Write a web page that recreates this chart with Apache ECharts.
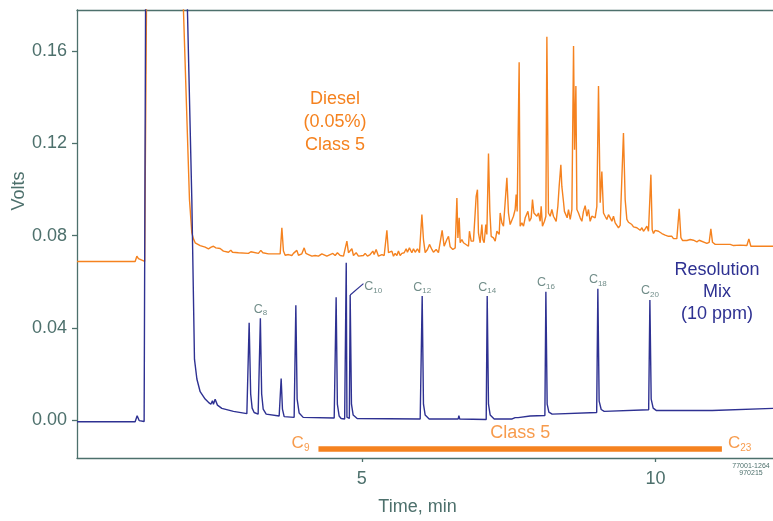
<!DOCTYPE html>
<html>
<head>
<meta charset="utf-8">
<script src="https://cdn.jsdelivr.net/npm/echarts@6/dist/echarts.min.js"></script>
<style>
  html, body { margin: 0; padding: 0; background: #ffffff; }
  #chart { width: 773px; height: 521px; }
</style>
</head>
<body>
<div id="chart"></div>
<script>
// Resolution mix (n-alkanes, 10 ppm): [time (min), signal (V)]
const mixTrace = [
  [0.15, -0.0006], [1.14, -0.0006], [1.174, 0.0020], [1.208, -0.0001], [1.293, -0.0005],
  [1.319, 0.19], [2.019, 0.19], [2.105, 0.0956], [2.150, 0.0265], [2.191, 0.0179],
  [2.247, 0.0124], [2.332, 0.0092], [2.388, 0.0078], [2.429, 0.0070], [2.456, 0.0085],
  [2.473, 0.0070], [2.502, 0.0091], [2.541, 0.0066], [2.616, 0.0052], [2.814, 0.0039],
  [3.042, 0.0029], [3.061, 0.0029], [3.081, 0.0423], [3.107, 0.0114], [3.132, 0.0053],
  [3.166, 0.0034], [3.234, 0.0027], [3.251, 0.0027], [3.272, 0.0442], [3.294, 0.0114],
  [3.320, 0.0049], [3.371, 0.0027], [3.592, 0.0019], [3.609, 0.0019], [3.626, 0.0181],
  [3.648, 0.0049], [3.677, 0.0016], [3.847, 0.0013], [3.864, 0.0013], [3.876, 0.0498],
  [3.898, 0.0092], [3.932, 0.0032], [4.001, 0.0013], [4.529, 0.0010], [4.549, 0.0010],
  [4.562, 0.0533], [4.583, 0.0070], [4.613, 0.0019], [4.647, 0.0008], [4.707, 0.0006],
  [4.724, 0.0008], [4.734, 0.0683], [4.746, 0.0014], [4.770, 0.0006], [4.787, 0.0008],
  [4.801, 0.0543], [4.823, 0.0070], [4.852, 0.0023], [4.920, 0.0008], [5.993, 0.0006],
  [6.013, 0.0006], [6.027, 0.0538], [6.049, 0.0070], [6.078, 0.0023], [6.146, 0.0006],
  [6.640, 0.0006], [6.652, 0.0020], [6.666, 0.0006], [7.117, 0.0004], [7.122, 0.0004],
  [7.134, 0.0538], [7.156, 0.0070], [7.185, 0.0023], [7.253, 0.0006], [7.559, 0.0006],
  [7.576, 0.0014], [7.593, 0.0003], [7.610, 0.0012], [7.627, 0.0004], [7.661, 0.0012],
  [7.865, 0.0019], [8.116, 0.0021], [8.133, 0.0557], [8.155, 0.0070], [8.184, 0.0036],
  [8.240, 0.0027], [8.998, 0.0034], [9.018, 0.0570], [9.040, 0.0083], [9.075, 0.0047],
  [9.126, 0.0039], [9.883, 0.0046], [9.904, 0.0521], [9.926, 0.0092], [9.960, 0.0053],
  [10.011, 0.0043], [10.965, 0.0043], [10.973, 0.0049], [12.0, 0.0052]
];

// Diesel, 0.05 % (Class 5): [time (min), signal (V)]
const dieselTrace = [
  [0.15, 0.0688], [1.140, 0.0688], [1.169, 0.0711], [1.196, 0.0700], [1.225, 0.0692],
  [1.302, 0.0688], [1.336, 0.19], [1.947, 0.19], [2.065, 0.0956], [2.105, 0.0812],
  [2.133, 0.0786], [2.162, 0.0769], [2.247, 0.0757], [2.332, 0.0750], [2.388, 0.0743],
  [2.434, 0.0750], [2.473, 0.0754], [2.514, 0.0747], [2.541, 0.0754], [2.587, 0.0744],
  [2.643, 0.0733], [2.729, 0.0728], [2.769, 0.0737], [2.797, 0.0728], [2.899, 0.0726],
  [3.069, 0.0723], [3.110, 0.0730], [3.144, 0.0723], [3.239, 0.0723], [3.280, 0.0736],
  [3.314, 0.0726], [3.410, 0.0721], [3.609, 0.0721], [3.638, 0.0834], [3.665, 0.0733],
  [3.694, 0.0715], [3.750, 0.0718], [3.779, 0.0726], [3.808, 0.0714], [3.835, 0.0723],
  [3.864, 0.0718], [3.893, 0.0736], [3.921, 0.0715], [3.949, 0.0718], [3.978, 0.0721],
  [4.018, 0.0747], [4.047, 0.0723], [4.091, 0.0718], [4.149, 0.0711], [4.205, 0.0714],
  [4.261, 0.0711], [4.319, 0.0721], [4.346, 0.0714], [4.404, 0.0711], [4.460, 0.0718],
  [4.506, 0.0723], [4.545, 0.0714], [4.584, 0.0726], [4.631, 0.0714], [4.687, 0.0711],
  [4.745, 0.0776], [4.772, 0.0726], [4.801, 0.0718], [4.830, 0.0743], [4.857, 0.0714],
  [4.903, 0.0726], [4.942, 0.0711], [5.027, 0.0714], [5.056, 0.0723], [5.095, 0.0711],
  [5.141, 0.0718], [5.187, 0.0733], [5.209, 0.0718], [5.243, 0.0740], [5.283, 0.0711],
  [5.341, 0.0718], [5.380, 0.0714], [5.426, 0.0823], [5.453, 0.0726], [5.482, 0.0718],
  [5.511, 0.0733], [5.538, 0.0711], [5.567, 0.0723], [5.596, 0.0714], [5.623, 0.0733],
  [5.652, 0.0714], [5.681, 0.0723], [5.720, 0.0726], [5.754, 0.0743], [5.776, 0.0728],
  [5.810, 0.0747], [5.851, 0.0726], [5.879, 0.0743], [5.908, 0.0728], [5.947, 0.0743],
  [5.981, 0.0726], [6.022, 0.0891], [6.049, 0.0783], [6.078, 0.0726], [6.117, 0.0740],
  [6.151, 0.0762], [6.192, 0.0740], [6.219, 0.0728], [6.265, 0.0740], [6.304, 0.0726],
  [6.333, 0.0718], [6.367, 0.0823], [6.401, 0.0754], [6.447, 0.0783], [6.475, 0.0797],
  [6.503, 0.0752], [6.549, 0.0740], [6.589, 0.0747], [6.618, 0.0963], [6.635, 0.0790],
  [6.657, 0.0877], [6.674, 0.0769], [6.703, 0.0783], [6.730, 0.0769], [6.759, 0.0762],
  [6.815, 0.0754], [6.832, 0.0819], [6.861, 0.0776], [6.900, 0.0776], [6.929, 0.0783],
  [6.946, 0.0970], [6.968, 0.0999], [6.985, 0.0812], [7.014, 0.0769], [7.043, 0.0848],
  [7.060, 0.0783], [7.082, 0.0769], [7.111, 0.0848], [7.128, 0.0805], [7.156, 0.1155],
  [7.179, 0.0905], [7.202, 0.0797], [7.241, 0.0790], [7.270, 0.0776], [7.299, 0.0819],
  [7.316, 0.0826], [7.338, 0.0805], [7.355, 0.0898], [7.384, 0.0855], [7.411, 0.0841],
  [7.440, 0.0841], [7.469, 0.1050], [7.496, 0.0898], [7.525, 0.0848], [7.554, 0.0841],
  [7.581, 0.0884], [7.610, 0.0913], [7.627, 0.0978], [7.644, 0.0905], [7.678, 0.1551],
  [7.695, 0.0841], [7.724, 0.0855], [7.752, 0.0841], [7.781, 0.0877], [7.798, 0.0870],
  [7.827, 0.0905], [7.854, 0.0862], [7.883, 0.0877], [7.905, 0.0956], [7.929, 0.0898],
  [7.951, 0.0905], [7.980, 0.0884], [8.007, 0.0898], [8.036, 0.0862], [8.053, 0.0927],
  [8.075, 0.0841], [8.109, 0.0862], [8.133, 0.0884], [8.150, 0.1661], [8.177, 0.0898],
  [8.206, 0.0884], [8.235, 0.0913], [8.262, 0.0884], [8.291, 0.0891], [8.308, 0.0862],
  [8.337, 0.0927], [8.359, 0.1013], [8.388, 0.1107], [8.405, 0.1013], [8.432, 0.0949],
  [8.449, 0.0905], [8.473, 0.0913], [8.495, 0.0877], [8.518, 0.0913], [8.547, 0.0870],
  [8.576, 0.0913], [8.604, 0.1621], [8.621, 0.1172], [8.644, 0.1448], [8.661, 0.0913],
  [8.688, 0.0898], [8.717, 0.0877], [8.746, 0.0862], [8.773, 0.0905], [8.802, 0.0930],
  [8.831, 0.0884], [8.858, 0.0913], [8.887, 0.0862], [8.916, 0.0884], [8.943, 0.0891],
  [8.972, 0.0877], [9.001, 0.0927], [9.029, 0.1448], [9.058, 0.0942], [9.086, 0.1078],
  [9.114, 0.0898], [9.142, 0.0884], [9.171, 0.0870], [9.199, 0.0891], [9.228, 0.0877],
  [9.257, 0.0862], [9.284, 0.0884], [9.313, 0.0855], [9.342, 0.0848], [9.369, 0.0834],
  [9.398, 0.0844], [9.427, 0.0841], [9.454, 0.1244], [9.483, 0.0956], [9.512, 0.0870],
  [9.539, 0.0858], [9.568, 0.0855], [9.597, 0.0848], [9.625, 0.0838], [9.653, 0.0844],
  [9.682, 0.0834], [9.710, 0.0841], [9.738, 0.0823], [9.768, 0.0834], [9.795, 0.0819],
  [9.824, 0.0829], [9.853, 0.0841], [9.880, 0.0819], [9.921, 0.1064], [9.943, 0.0826],
  [9.965, 0.0809], [9.994, 0.0823], [10.050, 0.0819], [10.079, 0.0815], [10.108, 0.0809],
  [10.135, 0.0812], [10.164, 0.0802], [10.221, 0.0797], [10.249, 0.0791], [10.278, 0.0797],
  [10.306, 0.0787], [10.335, 0.0791], [10.363, 0.0787], [10.403, 0.0916], [10.432, 0.0791],
  [10.459, 0.0779], [10.534, 0.0779], [10.590, 0.0783], [10.619, 0.0786], [10.646, 0.0780],
  [10.704, 0.0773], [10.743, 0.0780], [10.772, 0.0773], [10.874, 0.0766], [10.913, 0.0771],
  [10.942, 0.0829], [10.970, 0.0771], [11.016, 0.0762], [11.157, 0.0762], [11.186, 0.0769],
  [11.215, 0.0762], [11.271, 0.0762], [11.327, 0.0757], [11.441, 0.0759], [11.555, 0.0757],
  [11.589, 0.0786], [11.623, 0.0754], [11.725, 0.0754], [12.0, 0.0754]
];

// Labelled n-alkane peaks (carbon number, retention time)
const peakCarbons = ['8', '10', '12', '14', '16', '18', '20'];
const peakTimes = [3.272, 4.801, 6.027, 7.134, 8.133, 9.018, 9.904];

// Class 5 elution window (C9 to C23)
const classWindowTimes = [4.261, 11.130];
const classWindowCarbons = ['9', '23'];
const classWindowLevel = -0.0124;

// Axis ranges and ticks
const timeRange = [0.15, 12.0];
const voltRange = [-0.0163, 0.1777];
const timeTicks = [5, 10];
const voltTicks = [0, 0.04, 0.08, 0.12, 0.16];

const AXIS = '#4d706c';
const ORANGE = '#f5821f';
const BLUE = '#2e3192';
const FONT = '"Liberation Sans", Arial, Helvetica, sans-serif';

const chart = echarts.init(document.getElementById('chart'), null, { renderer: 'canvas' });

function subscriptRich(color, mainSize, subSize, drop) {
  return {
    c: { color: color, fontSize: mainSize, fontFamily: FONT },
    s: { color: color, fontSize: subSize, fontFamily: FONT, padding: [drop, 0, 0, 0] }
  };
}

const peakRich = subscriptRich(AXIS, 12.5, 8, 8);
const peakLabelData = peakTimes.map(function (t, i) {
  const hit = mixTrace.find(function (p) { return p[0] === t; });
  const item = { name: peakCarbons[i], value: [t, hit[1]] };
  if (peakCarbons[i] === '10') {
    item.label = { position: 'right', distance: 14, offset: [0, -8] };
  }
  return item;
});
const c10Top = peakLabelData[1].value;

const windowRich = subscriptRich(ORANGE, 17, 10, 10);

const option = {
  backgroundColor: '#ffffff',
  animation: false,
  grid: { left: 77, right: 0, top: 10, bottom: 62, containLabel: false },
  xAxis: [
    {
      type: 'value',
      min: timeRange[0],
      max: timeRange[1],
      name: 'Time, min',
      nameLocation: 'middle',
      nameGap: 40,
      nameTextStyle: { color: AXIS, fontSize: 18, fontFamily: FONT, padding: [0, 15, 0, 0] },
      axisLine: { show: true, onZero: false, lineStyle: { color: AXIS, width: 1.3 } },
      axisTick: { show: true, customValues: timeTicks, length: 4, lineStyle: { color: AXIS, width: 1.3 } },
      axisLabel: { show: true, customValues: timeTicks, margin: 12, color: AXIS, fontSize: 18, fontFamily: FONT },
      splitLine: { show: false }
    },
    {
      type: 'value',
      position: 'top',
      min: timeRange[0],
      max: timeRange[1],
      axisLine: { show: true, onZero: false, lineStyle: { color: AXIS, width: 1.3 } },
      axisTick: { show: false },
      axisLabel: { show: false },
      splitLine: { show: false }
    }
  ],
  yAxis: {
    type: 'value',
    min: voltRange[0],
    max: voltRange[1],
    axisLine: { show: true, onZero: false, lineStyle: { color: AXIS, width: 1.3 } },
    axisTick: { show: true, customValues: voltTicks, length: 5, lineStyle: { color: AXIS, width: 1.3 } },
    axisLabel: {
      show: true, customValues: voltTicks, margin: 10, color: AXIS, fontSize: 18, fontFamily: FONT,
      formatter: function (v) { return v.toFixed(2); }
    },
    splitLine: { show: false }
  },
  graphic: [
    {
      type: 'text', x: 19, y: 191, rotation: Math.PI / 2, silent: true,
      style: { text: 'Volts', fill: AXIS, fontSize: 18, fontFamily: FONT,
               align: 'center', textAlign: 'center', verticalAlign: 'middle', textVerticalAlign: 'middle' }
    },
    {
      type: 'text', x: 335, y: 88, silent: true,
      style: { text: 'Diesel\n(0.05%)\nClass 5', fill: ORANGE, fontSize: 18, fontFamily: FONT, lineHeight: 23,
               align: 'center', textAlign: 'center', verticalAlign: 'top', textVerticalAlign: 'top' }
    },
    {
      type: 'text', x: 717, y: 259, silent: true,
      style: { text: 'Resolution\nMix\n(10 ppm)', fill: BLUE, fontSize: 18, fontFamily: FONT, lineHeight: 22,
               align: 'center', textAlign: 'center', verticalAlign: 'top', textVerticalAlign: 'top' }
    },
    {
      type: 'text', x: 751, y: 462, silent: true,
      style: { text: '77001-1264\n970215', fill: AXIS, fontSize: 7, fontFamily: FONT, lineHeight: 7.5,
               align: 'center', textAlign: 'center', verticalAlign: 'top', textVerticalAlign: 'top' }
    }
  ],
  series: [
    {
      name: 'Diesel (0.05%) Class 5',
      type: 'line',
      data: dieselTrace,
      symbol: 'none',
      showSymbol: false,
      clip: true,
      lineStyle: { color: ORANGE, width: 1.4 },
      z: 2
    },
    {
      name: 'Resolution Mix (10 ppm)',
      type: 'line',
      data: mixTrace,
      symbol: 'none',
      showSymbol: false,
      clip: true,
      lineStyle: { color: BLUE, width: 1.4 },
      z: 3
    },
    {
      name: 'Peak labels',
      type: 'scatter',
      data: peakLabelData,
      symbolSize: 0,
      silent: true,
      itemStyle: { color: 'transparent' },
      label: {
        show: true, position: 'top', distance: 1,
        formatter: function (p) { return '{c|C}{s|' + p.name + '}'; },
        rich: peakRich
      },
      markLine: {
        silent: true,
        symbol: ['none', 'none'],
        label: { show: false },
        lineStyle: { color: BLUE, width: 1.2, type: 'solid' },
        data: [[{ coord: c10Top }, { coord: [5.027, 0.0592] }]]
      },
      z: 4
    },
    {
      name: 'Class 5 window',
      type: 'line',
      data: classWindowTimes.map(function (t) { return [t, classWindowLevel]; }),
      symbol: 'none',
      showSymbol: false,
      lineStyle: { color: ORANGE, width: 5.5, cap: 'butt' },
      z: 2
    },
    {
      name: 'Class 5 labels',
      type: 'scatter',
      symbolSize: 0,
      silent: true,
      itemStyle: { color: 'transparent' },
      data: [
        {
          name: classWindowCarbons[0], value: [classWindowTimes[0], classWindowLevel],
          label: { show: true, position: 'left', distance: 9, offset: [0, -6],
                   formatter: '{c|C}{s|' + classWindowCarbons[0] + '}', rich: windowRich }
        },
        {
          name: classWindowCarbons[1], value: [classWindowTimes[1], classWindowLevel],
          label: { show: true, position: 'right', distance: 6, offset: [0, -6],
                   formatter: '{c|C}{s|' + classWindowCarbons[1] + '}', rich: windowRich }
        },
        {
          name: 'Class 5', value: [(classWindowTimes[0] + classWindowTimes[1]) / 2, classWindowLevel],
          label: { show: true, position: 'top', distance: 7, formatter: 'Class 5',
                   color: ORANGE, fontSize: 18, fontFamily: FONT }
        }
      ],
      z: 4
    }
  ]
};

chart.setOption(option);
</script>
</body>
</html>
